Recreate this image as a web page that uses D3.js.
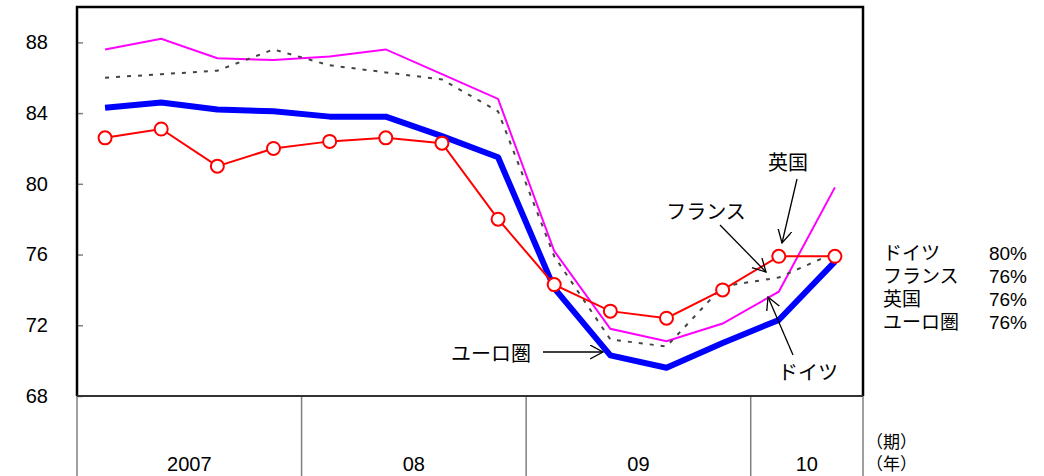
<!DOCTYPE html>
<html><head><meta charset="utf-8">
<script src="https://cdn.jsdelivr.net/npm/d3@7"></script>
<style>body{margin:0;background:#fff}</style>
</head><body><svg id="c" width="1044" height="476"></svg>
<script>
// ---- data ----
const quarters = ["07Q1","07Q2","07Q3","07Q4","08Q1","08Q2","08Q3","08Q4","09Q1","09Q2","09Q3","09Q4","10Q1","10Q2"];
const germany = [87.6, 88.2, 87.1, 87.0, 87.2, 87.6, 86.2, 84.8, 76.2, 71.8, 71.1, 72.1, 73.9, 79.8];
const france  = [86.0, 86.2, 86.4, 87.6, 86.7, 86.3, 85.9, 84.1, 75.9, 71.2, 70.8, 74.2, 74.7, 76.1];
const uk      = [82.6, 83.1, 81.0, 82.0, 82.4, 82.6, 82.3, 78.0, 74.3, 72.8, 72.4, 74.0, 75.9, 75.9];
const euro    = [84.3, 84.6, 84.2, 84.1, 83.8, 83.8, 82.7, 81.5, 74.1, 70.3, 69.6, 71.0, 72.3, 75.6];
const yTicks = [68, 72, 76, 80, 84, 88];
const years = ["2007", "08", "09", "10"];
const yearQuarterCounts = [4, 4, 4, 2];
const legendNames = ["ドイツ", "フランス", "英国", "ユーロ圏"];
const legendValues = ["80%", "76%", "76%", "76%"];

// ---- layout ----
const L = 77, R = 863, T = 7, B = 396, H = 476;
const svg = d3.select("#c");
const x = d3.scaleBand().domain(quarters).range([L, R]).padding(0);
const y = d3.scaleLinear().domain([68, 90]).range([B, T]);
const cx = q => x(q) + x.bandwidth() / 2;
const latin = "'Liberation Sans', Arial, sans-serif";
const jp = "'Liberation Sans', 'Noto Sans CJK JP', sans-serif";

// y axis
const yAxis = d3.axisLeft(y).tickValues(yTicks).tickSizeInner(-6).tickSizeOuter(0).tickPadding(29);
const gy = svg.append("g").attr("transform", `translate(${L},0)`).call(yAxis);
gy.select(".domain").remove();
gy.selectAll(".tick line").attr("stroke", "#808080").attr("stroke-width", 1.5);
gy.selectAll(".tick text").attr("font-family", latin).attr("font-size", 20).attr("fill", "#000");

// year bands in the x area
let acc = 0;
const bounds = [0];
yearQuarterCounts.forEach(c => { acc += c; bounds.push(acc); });
bounds.forEach((b, i) => {
  const xp = b < quarters.length ? x(quarters[b]) : R;
  svg.append("line").attr("x1", xp).attr("x2", xp).attr("y1", B).attr("y2", H)
    .attr("stroke", "#808080").attr("stroke-width", 1.5);
});
years.forEach((yr, i) => {
  const x0 = x(quarters[bounds[i]]);
  const x1 = bounds[i + 1] < quarters.length ? x(quarters[bounds[i + 1]]) : R;
  svg.append("text").attr("x", (x0 + x1) / 2).attr("y", 471).attr("text-anchor", "middle")
    .attr("font-family", latin).attr("font-size", 20).text(yr);
});
svg.append("text").attr("x", 866).attr("y", 448).attr("font-family", jp).attr("font-size", 17).text("（期）");
svg.append("text").attr("x", 866).attr("y", 470).attr("font-family", jp).attr("font-size", 17).text("（年）");

// series
const line = d3.line().x((d, i) => cx(quarters[i])).y(d => y(d));
svg.append("path").datum(euro).attr("d", line).attr("fill", "none").attr("stroke", "#0000ff").attr("stroke-width", 6).attr("stroke-linejoin", "round");
svg.append("path").datum(germany).attr("d", line).attr("fill", "none").attr("stroke", "#ff00ff").attr("stroke-width", 2);
svg.append("path").datum(france).attr("d", line).attr("fill", "none").attr("stroke", "#444").attr("stroke-width", 2).attr("stroke-dasharray", "4,7");
svg.append("path").datum(uk).attr("d", line).attr("fill", "none").attr("stroke", "#ff0000").attr("stroke-width", 2);
svg.selectAll("circle.uk").data(uk).join("circle").attr("class", "uk")
  .attr("cx", (d, i) => cx(quarters[i])).attr("cy", d => y(d)).attr("r", 6.5)
  .attr("fill", "#fff").attr("stroke", "#ff0000").attr("stroke-width", 2);

// frame
svg.append("path").attr("d", `M${L},${B} L${L},${T} L${R},${T} L${R},${B}`).attr("fill", "none").attr("stroke", "#000").attr("stroke-width", 2.5);
svg.append("line").attr("x1", L).attr("x2", R).attr("y1", B).attr("y2", B).attr("stroke", "#333").attr("stroke-width", 2);

// annotations
svg.append("defs").append("marker").attr("id", "ah").attr("markerUnits", "userSpaceOnUse")
  .attr("markerWidth", 16).attr("markerHeight", 16).attr("refX", 13).attr("refY", 7).attr("orient", "auto")
  .append("path").attr("d", "M0,0 L13,7 L0,14").attr("fill", "none").attr("stroke", "#000").attr("stroke-width", 1.3);
const ann = [
  {t: "英国", tx: 788, ty: 170, x1: 797, y1: 179, x2: 782, y2: 243},
  {t: "フランス", tx: 706, ty: 219, x1: 720, y1: 225, x2: 766, y2: 272},
  {t: "ドイツ", tx: 808, ty: 380, x1: 793, y1: 355, x2: 768, y2: 297},
  {t: "ユーロ圏", tx: 491, ty: 361, x1: 543, y1: 352, x2: 603, y2: 352}
];
ann.forEach(a => {
  svg.append("line").attr("x1", a.x1).attr("y1", a.y1).attr("x2", a.x2).attr("y2", a.y2)
    .attr("stroke", "#000").attr("stroke-width", 1.3).attr("marker-end", "url(#ah)");
  svg.append("text").attr("x", a.tx).attr("y", a.ty).attr("text-anchor", "middle")
    .attr("font-family", jp).attr("font-size", 20).text(a.t);
});

// legend on the right
legendNames.forEach((n, i) => {
  const yy = 260 + i * 23;
  svg.append("text").attr("x", 883).attr("y", yy).attr("font-family", jp).attr("font-size", 19).text(n);
  svg.append("text").attr("x", 1027).attr("y", yy).attr("text-anchor", "end").attr("font-family", latin).attr("font-size", 19).text(legendValues[i]);
});
</script></body></html>
